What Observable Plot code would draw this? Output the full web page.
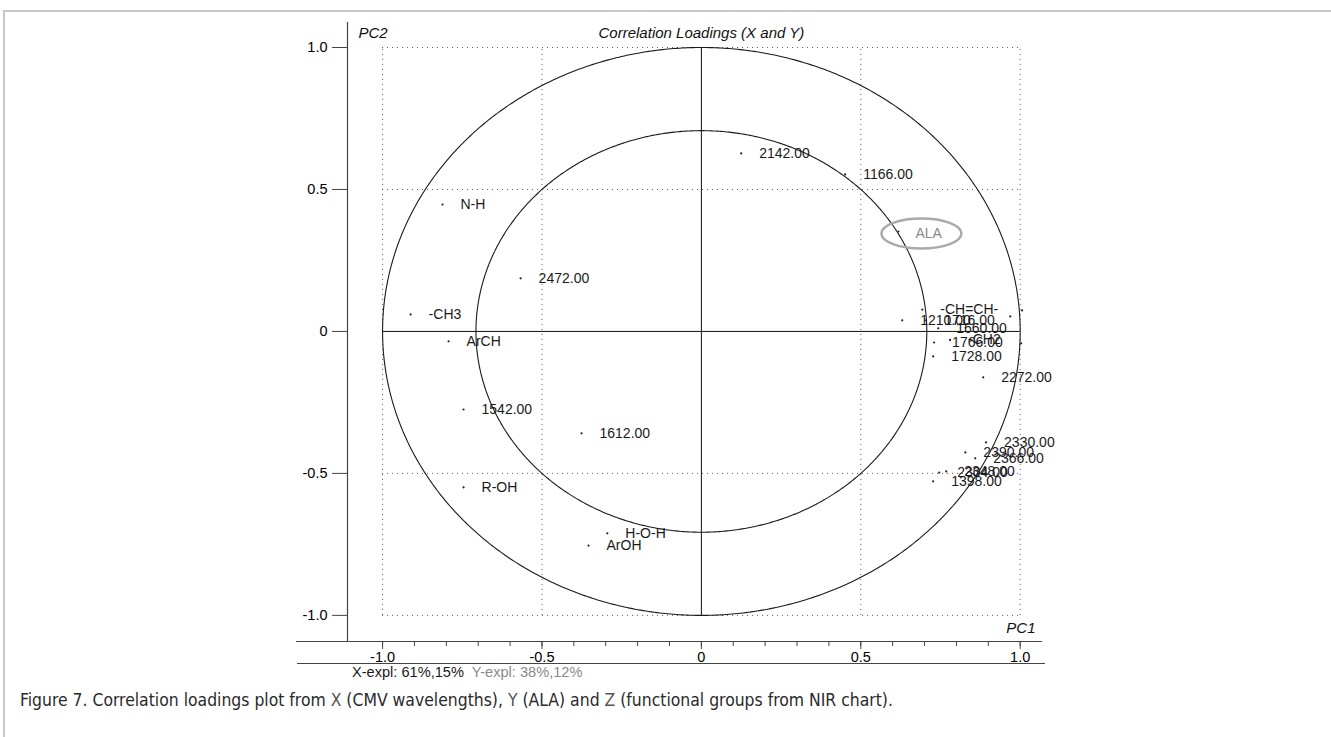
<!DOCTYPE html>
<html>
<head>
<meta charset="utf-8">
<script src="https://cdn.jsdelivr.net/npm/d3@7"></script>
<script src="https://cdn.jsdelivr.net/npm/@observablehq/plot@0.6"></script>
<style>
html,body{margin:0;padding:0;background:#fff;}
#wrap{position:relative;width:1331px;height:737px;overflow:hidden;background:#fff;}
#border{position:absolute;left:3px;top:10px;width:1340px;height:740px;border-top:2px solid #c8c8c8;border-left:2px solid #c8c8c8;}
#chart{position:absolute;left:0;top:0;}
#sep{position:absolute;left:297px;top:663px;width:748px;height:0;border-top:1px solid #444;}
#expl{position:absolute;left:352px;top:664px;font:14.6px "Liberation Sans",Arial,sans-serif;color:#1a1a1a;white-space:pre;}
#expl .y{color:#8a8a8a;}
#caption{position:absolute;left:20px;top:690px;font:500 17.4px "Liberation Sans Narrow","DejaVu Sans Condensed","Roboto",sans-serif;color:#2a2a2a;white-space:nowrap;}
#caption .v{font-weight:300;color:#555;}
</style>
</head>
<body>
<div id="wrap">
  <div id="border"></div>
  <div id="chart"></div>
  <div id="sep"></div>
  <div id="expl">X-expl: 61%,15%  <span class="y">Y-expl: 38%,12%</span></div>
  <div id="caption">Figure 7. Correlation loadings plot from <span class="v">X</span> (CMV wavelengths), <span class="v">Y</span> (ALA) and <span class="v">Z</span> (functional groups from NIR chart).</div>
</div>
<script>
// X (wavelengths) and Z (functional groups) loadings
const xzLabels = ["2142.00","1166.00","N-H","2472.00","-CH3","ArCH","1542.00","1612.00","R-OH","H-O-H","ArOH",
  "-CH=CH-","1210.00","1716.00","1660.00","1766.00","-CH2","1728.00","2272.00","","","",
  "2330.00","2390.00","2366.00","2304.00","2348.00","1398.00"];
const xzPC1 = [0.125, 0.451, -0.812, -0.567, -0.912, -0.793, -0.746, -0.376, -0.746, -0.295, -0.354,
  0.693, 0.630, 0.705, 0.743, 0.730, 0.780, 0.727, 0.884, 0.969, 1.006, 1.003,
  0.893, 0.828, 0.859, 0.746, 0.768, 0.727];
const xzPC2 = [0.627, 0.553, 0.447, 0.187, 0.060, -0.035, -0.275, -0.359, -0.549, -0.711, -0.754,
  0.077, 0.039, 0.039, 0.011, -0.039, -0.030, -0.088, -0.162, 0.053, 0.074, -0.042,
  -0.391, -0.426, -0.447, -0.497, -0.493, -0.528];
// Y loading
const yLabels = ["ALA"];
const yPC1 = [0.618];
const yPC2 = [0.352];

const xTicksMajor = [-1, -0.5, 0, 0.5, 1];
const xTicksMinor = [-1,-0.9,-0.8,-0.7,-0.6,-0.5,-0.4,-0.3,-0.2,-0.1,0,0.1,0.2,0.3,0.4,0.5,0.6,0.7,0.8,0.9,1];
const yTicks = [-1, -0.5, 0, 0.5, 1];
const tickText = {"-1":"-1.0","-0.5":"-0.5","0":"0","0.5":"0.5","1":"1.0"};
const gridVals = [-1, -0.5, 0.5, 1];
const xDomain = [-1.11, 1.07];
const yDomain = [-1.092, 1.088];
const axisExtent = [-1.27, 1.07];

const xz = xzLabels.map((t, i) => ({label: t, pc1: xzPC1[i], pc2: xzPC2[i]}));
const yl = yLabels.map((t, i) => ({label: t, pc1: yPC1[i], pc2: yPC2[i]}));

function circle(r) {
  return d3.range(0, 721).map(a => {
    const t = a / 720 * 2 * Math.PI;
    return {x: r * Math.cos(t), y: r * Math.sin(t)};
  });
}
const ellipseSymbol = {
  draw(ctx) {
    const rx = 40, ry = 15, k = 0.5523;
    ctx.moveTo(rx, 0);
    ctx.bezierCurveTo(rx, ry * k, rx * k, ry, 0, ry);
    ctx.bezierCurveTo(-rx * k, ry, -rx, ry * k, -rx, 0);
    ctx.bezierCurveTo(-rx, -ry * k, -rx * k, -ry, 0, -ry);
    ctx.bezierCurveTo(rx * k, -ry, rx, -ry * k, rx, 0);
    ctx.closePath();
  }
};
const fmt = d => tickText[String(d)] ?? "";

const plot = Plot.plot({
  width: 1331, height: 690,
  marginLeft: 347, marginRight: 289, marginTop: 22, marginBottom: 49,
  x: {domain: xDomain, label: null},
  y: {domain: yDomain, label: null},
  style: {fontFamily: "'Liberation Sans', Arial, sans-serif", fontSize: "14px", background: "transparent", color: "#111"},
  marks: [
    Plot.ruleX(gridVals, {x: d => d, y1: -1, y2: 1, stroke: "#555", strokeDasharray: "1,4"}),
    Plot.ruleY(gridVals, {y: d => d, x1: -1, x2: 1, stroke: "#555", strokeDasharray: "1,4"}),
    Plot.ruleX([0], {y1: -1, y2: 1, stroke: "#111", strokeWidth: 1}),
    Plot.ruleY([0], {x1: -1, x2: 1, stroke: "#111", strokeWidth: 1}),
    Plot.line(circle(1), {x: "x", y: "y", stroke: "#1a1a1a", strokeWidth: 1.1}),
    Plot.line(circle(Math.SQRT1_2), {x: "x", y: "y", stroke: "#1a1a1a", strokeWidth: 1.1}),
    Plot.ruleX([xDomain[0]], {stroke: "#444", strokeWidth: 1.2}),
    Plot.ruleY([yDomain[0]], {x1: axisExtent[0], x2: axisExtent[1], stroke: "#444", strokeWidth: 1.2}),
    Plot.axisY(yTicks, {tickSize: 15, tickPadding: 5, tickFormat: fmt, label: null, fill: "#000", stroke: "#444", fontSize: 14.5}),
    Plot.axisX(xTicksMinor, {tickSize: 5, tickFormat: () => "", label: null, stroke: "#444"}),
    Plot.axisX(xTicksMajor, {tickSize: 8, tickPadding: 2, tickFormat: fmt, label: null, fill: "#000", stroke: "#444", fontSize: 14.5}),
    Plot.text(["PC2"], {frameAnchor: "top-left", dx: 11, dy: 11, lineAnchor: "middle", fontStyle: "italic", fontSize: 15, fill: "#111"}),
    Plot.text(["Correlation Loadings (X and Y)"], {x: [0], frameAnchor: "top", dy: 11, lineAnchor: "middle", fontStyle: "italic", fontSize: 15, fill: "#111"}),
    Plot.text(["PC1"], {frameAnchor: "bottom-right", dx: -7, dy: -13, lineAnchor: "middle", textAnchor: "end", fontStyle: "italic", fontSize: 15, fill: "#111"}),
    Plot.dot(yl, {x: "pc1", y: "pc2", symbol: ellipseSymbol, r: 10, dx: 23, dy: 2, stroke: "#aaa", strokeWidth: 2.5, fill: "none"}),
    Plot.dot(xz, {x: "pc1", y: "pc2", r: 1.1, fill: "#222", stroke: "none"}),
    Plot.dot(yl, {x: "pc1", y: "pc2", r: 1.1, fill: "#222", stroke: "none"}),
    Plot.text(xz, {x: "pc1", y: "pc2", text: "label", dx: 18, textAnchor: "start", fill: "#1a1a1a"}),
    Plot.text(yl, {x: "pc1", y: "pc2", text: "label", dx: 17, dy: 2, textAnchor: "start", fill: "#8a8a8a"})
  ]
});
document.getElementById("chart").appendChild(plot);
</script>
</body>
</html>
